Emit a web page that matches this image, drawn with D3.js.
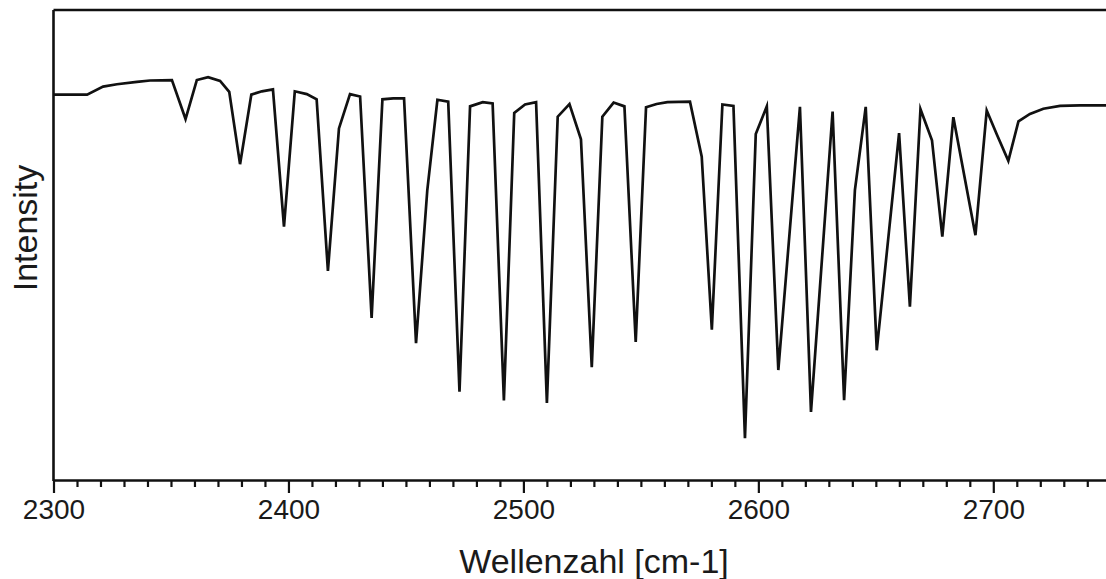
<!DOCTYPE html>
<html lang="de">
<head>
<meta charset="UTF-8"/>
<title>Spektrum</title>
<script src="https://cdn.jsdelivr.net/npm/d3@7/dist/d3.min.js"></script>
<style>
  * { margin: 0; padding: 0; }
  body { background: #fff; width: 1106px; height: 579px; overflow: hidden; }
  svg { display: block; font-family: "Liberation Sans", Arial, sans-serif; }
</style>
</head>
<body>
<svg id="chart" width="1106" height="579"></svg>
<script>
// values (wavenumber in cm-1, intensity in arbitrary units 0..100)
const wavenumber = [2300, 2314.3, 2321.1, 2327.0, 2335.5, 2341.1, 2350.4, 2356.2, 2361.0, 2365.8,
  2370.9, 2374.8, 2379.4, 2384.2, 2388.7, 2393.4, 2398.1, 2402.7, 2407.8, 2412.0,
  2416.8, 2421.5, 2426.2, 2430.5, 2435.4, 2440.0, 2444.6, 2449.2, 2454.3, 2459.1,
  2463.4, 2468.0, 2472.8, 2477.3, 2482.7, 2486.9, 2491.7, 2496.1, 2500.7, 2505.4,
  2510.0, 2514.6, 2519.6, 2524.5, 2529.1, 2533.6, 2538.4, 2543.0, 2547.8, 2552.2,
  2556.7, 2561.3, 2570.9, 2575.9, 2580.2, 2584.7, 2589.4, 2594.3, 2598.9, 2603.6,
  2608.5, 2617.7, 2622.4, 2631.6, 2636.5, 2641.1, 2645.7, 2650.4, 2659.9, 2664.5,
  2669.0, 2673.9, 2678.3, 2683.0, 2692.4, 2697.2, 2701.6, 2706.4, 2710.7, 2715.6,
  2721.3, 2728.4, 2736.9, 2750]
const intensity = [82.0, 82.0, 83.7, 84.2, 84.7, 85.0, 85.1, 76.8, 85.1, 85.7,
  84.9, 82.6, 67.2, 82.0, 82.7, 83.1, 53.9, 82.7, 82.1, 81.0,
  44.5, 74.8, 82.1, 81.6, 34.5, 81.0, 81.2, 81.2, 29.1, 61.7,
  80.9, 80.5, 18.8, 79.5, 80.4, 80.1, 16.9, 78.1, 79.9, 80.4,
  16.4, 77.3, 80.0, 72.5, 24.0, 77.3, 80.3, 79.5, 29.4, 79.3,
  80.0, 80.4, 80.5, 68.8, 32.0, 79.9, 79.6, 8.9, 73.6, 79.5,
  23.4, 79.4, 14.5, 78.4, 17.0, 61.7, 79.4, 27.6, 73.8, 36.9,
  78.9, 72.3, 51.8, 77.2, 52.1, 78.6, 73.4, 67.9, 76.3, 77.9,
  79.0, 79.6, 79.7, 79.7]

const xMin = 2300, xMax = 2750
const majorTicks = [2300, 2400, 2500, 2600, 2700]
const xTitle = 'Wellenzahl [cm-1]'
const yTitle = 'Intensity'

const plotLeft = 53.5, plotTop = 10, plotBottom = 480
const pxPerUnit = 2.3495

const svg = d3.select('#chart')

const x = d3.scaleLinear().domain([xMin, xMax]).range([plotLeft, plotLeft + (xMax - xMin) * pxPerUnit])
const y = d3.scaleLinear().domain([0, 100]).range([plotBottom, plotTop])

const data = wavenumber.map((w, i) => ({ w, v: intensity[i] }))

// minor ticks every 10 cm-1
const minor = d3.range(xMin, xMax + 1, 10).filter(t => !majorTicks.includes(t))

svg.append('g')
  .attr('transform', `translate(0,${plotBottom})`)
  .call(d3.axisBottom(x).tickValues(minor).tickSize(7).tickFormat(''))
  .call(g => g.select('.domain').remove())
  .selectAll('line').attr('stroke', '#111').attr('stroke-width', 2.2)

const xAxis = svg.append('g')
  .attr('transform', `translate(0,${plotBottom})`)
  .call(d3.axisBottom(x).tickValues(majorTicks).tickSize(13).tickSizeOuter(0).tickPadding(6).tickFormat(d3.format('d')))
xAxis.select('.domain').attr('stroke', '#111').attr('stroke-width', 2.6)
xAxis.selectAll('.tick line').attr('stroke', '#111').attr('stroke-width', 2.2)
xAxis.selectAll('.tick text')
  .attr('fill', '#1a1a1a')
  .attr('font-size', 28)
  .attr('font-family', '"Liberation Sans", Arial, sans-serif')
  .attr('dy', '0.71em')

// frame: left axis and top border
svg.append('line')
  .attr('x1', plotLeft).attr('x2', plotLeft).attr('y1', plotTop).attr('y2', plotBottom + 1)
  .attr('stroke', '#111').attr('stroke-width', 2.6)
svg.append('line')
  .attr('x1', plotLeft).attr('x2', x(xMax)).attr('y1', plotTop).attr('y2', plotTop)
  .attr('stroke', '#111').attr('stroke-width', 2.6)

const line = d3.line().x(d => x(d.w)).y(d => y(d.v))

svg.append('path')
  .datum(data)
  .attr('d', line)
  .attr('fill', 'none')
  .attr('stroke', '#111')
  .attr('stroke-width', 2.7)
  .attr('stroke-linejoin', 'miter')
  .attr('stroke-miterlimit', 6)

svg.append('text')
  .attr('x', 594).attr('y', 573)
  .attr('text-anchor', 'middle')
  .attr('font-size', 34)
  .attr('fill', '#1a1a1a')
  .text(xTitle)

svg.append('text')
  .attr('transform', 'translate(37,228) rotate(-90)')
  .attr('text-anchor', 'middle')
  .attr('font-size', 34)
  .attr('fill', '#1a1a1a')
  .text(yTitle)
</script>
</body>
</html>
